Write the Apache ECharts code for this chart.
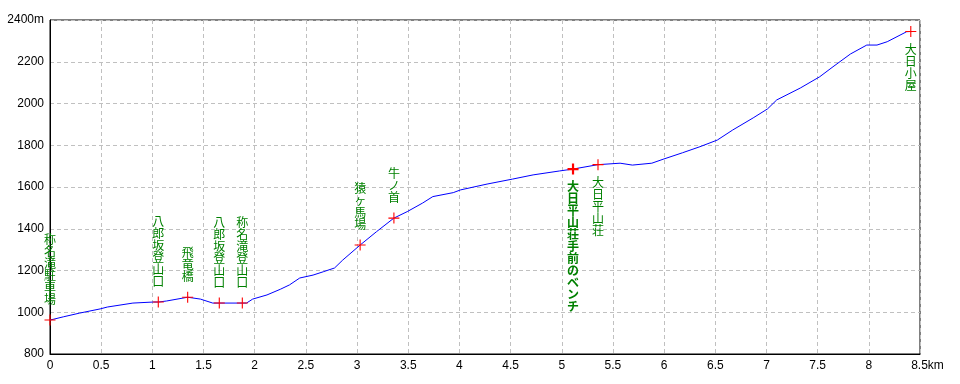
<!DOCTYPE html>
<html><head><meta charset="utf-8">
<script src="https://cdn.jsdelivr.net/npm/echarts@6/dist/echarts.min.js"></script>
<style>html,body{margin:0;padding:0;background:#fff}#c{width:960px;height:384px}</style>
</head><body><div id="c"></div>
<script>
// profile (distance km, elevation m)
const distKm = [0,0.03,0.13,0.29,0.49,0.56,0.81,1.01,1.06,1.14,1.345,1.47,1.59,1.654,1.879,1.92,1.98,2.12,2.25,2.34,2.44,2.57,2.67,2.78,2.86,3.03,3.19,3.36,3.49,3.64,3.74,3.94,4.01,4.27,4.52,4.72,4.98,5.11,5.354,5.57,5.69,5.88,5.99,6.18,6.35,6.52,6.67,6.87,7.01,7.10,7.33,7.52,7.65,7.82,7.98,8.08,8.18,8.37,8.41];
const elevM  = [963,966,978,996,1016,1025,1044,1049,1049,1054,1072,1063,1044,1044,1044,1044,1063,1083,1110,1131,1164,1178,1194,1212,1250,1322,1386,1451,1482,1523,1554,1573,1586,1614,1638,1658,1677,1686,1707,1714,1705,1714,1733,1764,1793,1825,1873,1931,1974,2017,2074,2128,2176,2237,2280,2280,2296,2344,2345];
// waypoints
const wpNames = ['称名滝駐車場','八郎坂登山口','飛竜橋','八郎坂登山口','称名滝登山口','猿ヶ馬場','牛ノ首','大日平山荘手前のベンチ','大日平山荘','大日小屋'];
const wpKm    = [0,1.058,1.345,1.654,1.879,3.03,3.36,5.11,5.354,8.41];
const wpElev  = [963,1049,1072,1044,1044,1322,1451,1686,1707,2345];
const wpSide  = ['top','top','top','top','top','top','top','bottom','bottom','bottom'];
const wpBold  = [false,false,false,false,false,false,false,true,false,false];
const xTicks = {min:0,max:8.5,step:0.5,unit:'km'};
const yTicks = {min:800,max:2400,step:200,unit:'m'};

const chart = echarts.init(document.getElementById('c'), null, {renderer:'canvas'});
const plus = 'path://M4.5,0h1v10h-1zM0,4.5h10v1h-10z';
const plusBold = 'path://M4,0h2v10h-2zM0,4h10v2h-10z';
chart.setOption({
  animation:false,
  backgroundColor:'#fff',
  grid:{left:50,right:40,top:20,bottom:30,show:true,borderColor:'#000',borderWidth:1},
  xAxis:{type:'value',min:xTicks.min,max:xTicks.max,interval:xTicks.step,
    axisLine:{lineStyle:{color:'#000'}},axisTick:{show:false},
    axisLabel:{color:'#000',fontFamily:'Liberation Sans',fontSize:12,margin:6,
      formatter:v=>Math.abs(v-xTicks.max)<1e-9?'{u|'+v+xTicks.unit+'}':String(v),
      rich:{u:{padding:[0,0,0,15],fontFamily:'Liberation Sans',fontSize:12,color:'#000'}}},
    splitLine:{show:true,lineStyle:{color:'#c0c0c0',type:[4,3]}}},
  yAxis:{type:'value',min:yTicks.min,max:yTicks.max,interval:yTicks.step,
    axisLine:{show:true,lineStyle:{color:'#000'}},axisTick:{show:false},
    axisLabel:{color:'#000',fontFamily:'Liberation Sans',fontSize:12,margin:6,
      formatter:v=>v===yTicks.max?v+yTicks.unit:String(v)},
    splitLine:{show:true,lineStyle:{color:'#c0c0c0',type:[4,3]}}},
  series:[
    {type:'line',data:distKm.map((d,i)=>[d,elevM[i]]),showSymbol:false,
     lineStyle:{color:'#0000ff',width:1},z:2},
    {type:'scatter',z:3,
     data:wpKm.map((d,i)=>({value:[d,wpElev[i]],name:wpNames[i],
       symbol:wpBold[i]?plusBold:plus,
       label:{position:wpSide[i],distance:wpSide[i]==='top'?9:6,
         fontWeight:wpBold[i]?'bold':'normal'}})),
     symbolSize:11,itemStyle:{color:'#ff0000',opacity:1},
     label:{show:true,color:'#008000',fontFamily:'Noto Sans CJK JP',fontSize:12,lineHeight:12,
       formatter:p=>p.name.split('').join('\n')}}
  ]
});
</script></body></html>
